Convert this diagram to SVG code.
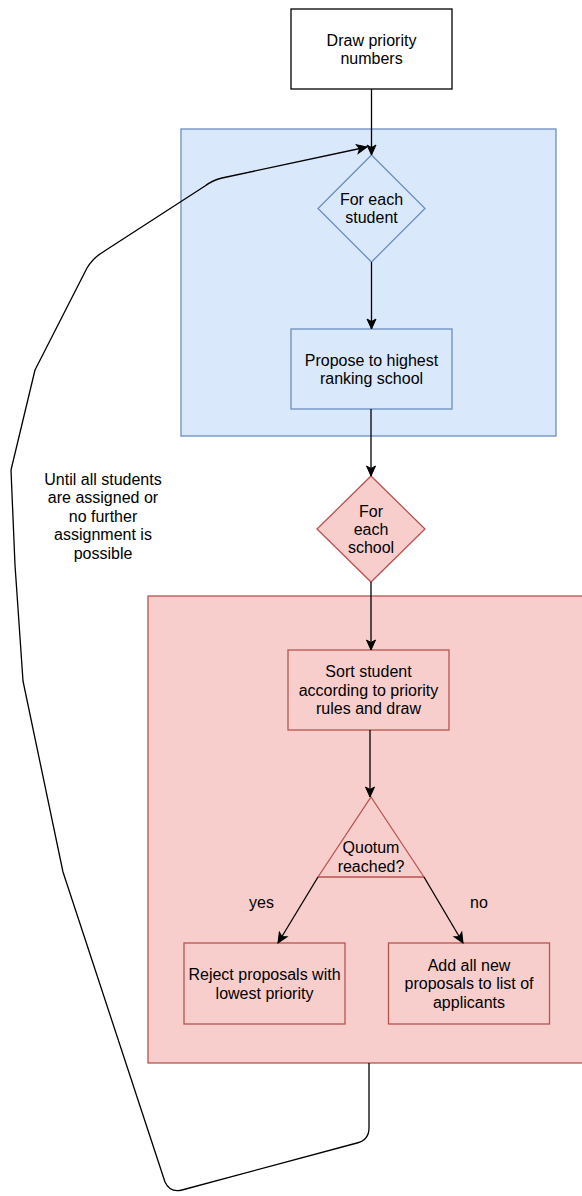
<svg xmlns="http://www.w3.org/2000/svg" width="582" height="1196" viewBox="0 0 582 1196">
<style>
text{font-family:"Liberation Sans",Arial,Helvetica,sans-serif;font-size:16px;fill:#000;text-anchor:middle}
.blue{fill:#dae8fc;stroke:#6c8ebf;stroke-width:1.3}
.red{fill:#f8cecc;stroke:#b85450;stroke-width:1.3}
.plain{fill:#fff;stroke:#000;stroke-width:1.3}
.edge{fill:none;stroke:#000;stroke-width:1.3;stroke-linejoin:round}
</style>
<defs>
<marker id="arr" markerUnits="userSpaceOnUse" markerWidth="12" markerHeight="12" viewBox="0 0 12 12" refX="11" refY="6" orient="auto">
<path d="M1,1.5 L11,6 L1,10.5 L3.5,6 Z" fill="#000" stroke="#000" stroke-width="1"/>
</marker>
</defs>
<rect width="582" height="1196" fill="#fff"/>
<g id="container-students"><rect class="blue" x="181" y="129" width="375" height="307"/></g>
<g id="container-schools"><rect class="red" x="148" y="596" width="440" height="467"/></g>
<g id="n-draw"><rect class="plain" x="291" y="9" width="161" height="80"/><text x="371.5" y="45.7">Draw priority</text><text x="371.5" y="64">numbers</text></g>
<g id="n-student"><polygon class="blue" points="371.5,155 425,208.5 371.5,262 318,208.5"/><text x="371.5" y="205">For each</text><text x="371.5" y="223.4">student</text></g>
<g id="n-propose"><rect class="blue" x="291" y="329" width="161" height="80"/><text x="371.5" y="365.6">Propose to highest</text><text x="371.5" y="384">ranking school</text></g>
<g id="n-school"><polygon class="red" points="371,476 425,529 371,582 317,529"/><text x="371" y="516.6">For</text><text x="371" y="535">each</text><text x="371" y="553.4">school</text></g>
<g id="n-sort"><rect class="red" x="288" y="650" width="161" height="80"/><text x="368.5" y="677.3">Sort student</text><text x="368.5" y="695.7">according to priority</text><text x="368.5" y="714.1">rules and draw</text></g>
<g id="n-quotum"><polygon class="red" points="371,797 424,877 318,877"/><text x="371" y="853.3">Quotum</text><text x="371" y="871.7">reached?</text></g>
<g id="n-reject"><rect class="red" x="184" y="943" width="161" height="81"/><text x="264.5" y="980.1">Reject proposals with</text><text x="264.5" y="998.5">lowest priority</text></g>
<g id="n-add"><rect class="red" x="388.5" y="943" width="161" height="81"/><text x="469" y="970.9">Add all new</text><text x="469" y="989.3">proposals to list of</text><text x="469" y="1007.7">applicants</text></g>
<g id="connectors">
<path class="edge" d="M371.5,89 L371.5,155" marker-end="url(#arr)"/>
<path class="edge" d="M371.5,262 L371.5,329" marker-end="url(#arr)"/>
<path class="edge" d="M371,409 L371,476" marker-end="url(#arr)"/>
<path class="edge" d="M371,582 L371,650" marker-end="url(#arr)"/>
<path class="edge" d="M370,730 L370,797" marker-end="url(#arr)"/>
<path class="edge" d="M318,877 L278,943" marker-end="url(#arr)"/>
<path class="edge" d="M424,877 L463,943" marker-end="url(#arr)"/>
<path class="edge" d="M369,1063 L369,1128 Q369,1140 357,1143 L182,1190 Q170,1193 165,1182 L63,872 L23,681 L15,565 L11,470 L35,370 L87,268 Q93,258 103,252 L205,186 Q213,180 222,178 L367,147" marker-end="url(#arr)"/>
<text x="261.5" y="908.3">yes</text>
<text x="479" y="908.3">no</text>
<text x="103" y="485">Until all students</text>
<text x="103" y="503.4">are assigned or</text>
<text x="103" y="521.8">no further</text>
<text x="103" y="540.2">assignment is</text>
<text x="103" y="558.6">possible</text>
</g>
</svg>
